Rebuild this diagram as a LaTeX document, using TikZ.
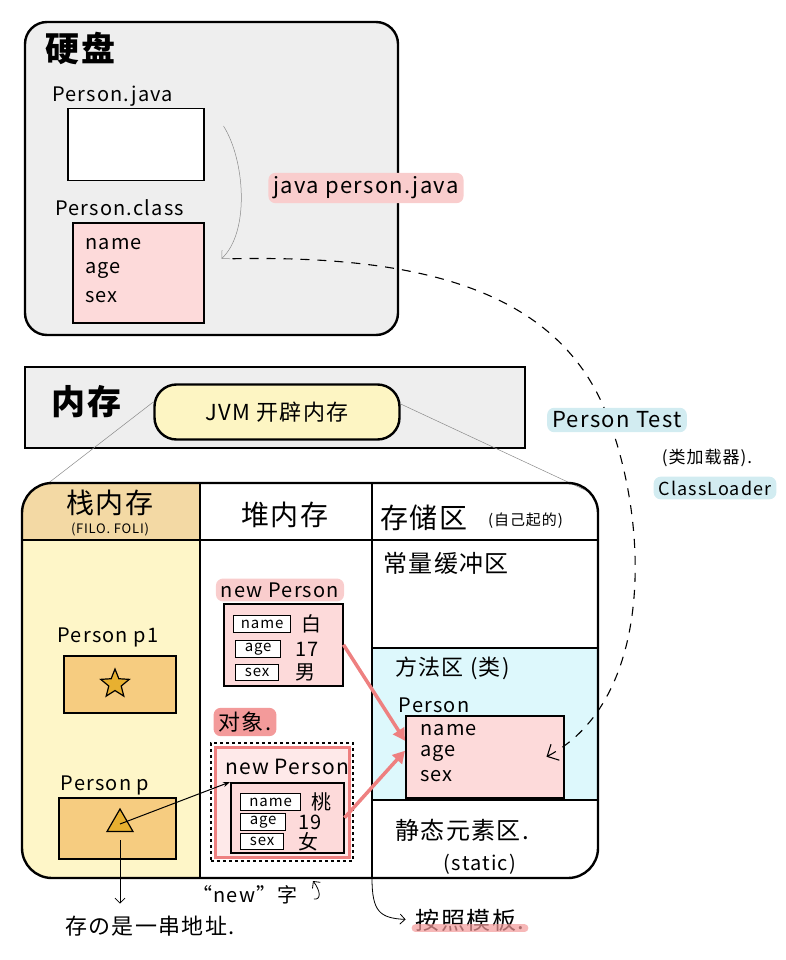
\documentclass[tikz,border=0pt]{standalone}
\usepackage{fontspec}
\setmainfont{Noto Sans CJK SC}[LetterSpace=6]
\usetikzlibrary{arrows.meta,positioning,shapes.geometric}

\definecolor{diskgray}{HTML}{EEEEEE}
\definecolor{filepink}{HTML}{FDDADA}
\definecolor{jvmyellow}{HTML}{FDF5C3}
\definecolor{stacktan}{HTML}{F3D9A4}
\definecolor{stackyellow}{HTML}{FEF6C8}
\definecolor{refbox}{HTML}{F6CC80}
\definecolor{markgold}{HTML}{E8B030}
\definecolor{methodcyan}{HTML}{DDF8FC}
\definecolor{hlpink}{HTML}{F9CDCD}
\definecolor{hlred}{HTML}{F39A9A}
\definecolor{hlcyan}{HTML}{D2ECF1}
\definecolor{objred}{HTML}{EE8080}
\definecolor{linegray}{HTML}{8A8A8A}

\tikzset{
  panel/.style={draw, line width=2.4pt},
  filebox/.style={draw, line width=1.5pt, anchor=north west, inner sep=0pt},
  field/.style={draw, line width=1.3pt, fill=white, anchor=north west, inner sep=1pt, font=\fontsize{15}{15}\selectfont},
  hand/.style={inner sep=0pt, font=\fontsize{20}{20}\selectfont},
  bighand/.style={inner sep=0pt, font=\fontsize{24}{24}\selectfont},
  title/.style={inner sep=0pt, font=\fontsize{34}{34}\selectfont\bfseries},
  colhead/.style={inner sep=0pt, font=\fontsize{28}{28}\selectfont},
  small/.style={inner sep=0pt, font=\fontsize{13}{13}\selectfont},
  marker/.style={fill=#1, rounded corners=7pt, inner xsep=5pt, inner ysep=4pt},
  thinline/.style={linegray, line width=0.5pt},
  note/.style={line width=0.8pt, -{Straight Barb[length=5pt]}},
  refarrow/.style={objred, line width=3.5pt, -{Triangle[length=12pt,width=13pt]}},
}

\begin{document}
\begin{tikzpicture}[x=1pt, y=-1pt]
  \useasboundingbox (0,0) rectangle (786,960);

  % hard disk
  \draw [panel, fill=diskgray, rounded corners=22pt] (25,22) rectangle (398,335);
  \node [title, anchor=west] (disk) at (45,48) {硬盘};
  \node [hand, anchor=west] (javaname) at (52,96) {Person.java};
  \node [filebox, fill=white, minimum width=136, minimum height=72] (javabox) at (67,108) {};
  \node [hand, anchor=west] (classname) at (55,208) {Person.class};
  \node [filebox, fill=filepink, minimum width=131, minimum height=100] (classbox) at (72,222) {};
  \node [hand, anchor=west] (cname) at (85,244) {name};
  \node [hand, anchor=west] (cage) at (85,270) {age};
  \node [hand, anchor=west] (csex) at (85,297) {sex};
  \node [hand, marker=hlpink, font=\fontsize{22}{22}\selectfont] (javac) at (366,188) {java person.java};
  \draw [thinline, -{Straight Barb[length=6pt]}] ([xshift=19pt,yshift=-18pt]javabox.north east)
    .. controls (245,160) and (250,232) .. ([xshift=17pt,yshift=14pt]classbox.east);

  % memory
  \draw [panel, fill=diskgray] (25,367) rectangle (525,448);
  \node [title] (mem) at (87,402) {内存};
  \node [draw, line width=2.4pt, fill=jvmyellow, rounded corners=22pt, minimum width=245, minimum height=55, hand, font=\fontsize{22}{22}\selectfont] (jvm) at (277,412) {JVM 开辟内存};

  % lower box
  \coordinate (lowtl) at (42,488);
  \coordinate (lowtr) at (585,490);
  \draw [thinline] ([yshift=10pt]jvm.west) -- (lowtl);
  \draw [thinline] ([yshift=8pt]jvm.east) -- (510,455) -- (lowtr);
  \begin{scope}
    \clip [rounded corners=30pt] (22,483) rectangle (598,878);
    \fill [stacktan] (22,483) rectangle (200,540);
    \fill [stackyellow] (22,540) rectangle (200,878);
    \fill [methodcyan] (372,648) rectangle (598,800);
  \end{scope}
  \draw [panel, rounded corners=30pt] (22,483) rectangle (598,878);
  \draw [line width=1.8pt] (200,483) -- (200,878);
  \draw [line width=1.8pt] (372,483) -- (372,878);
  \draw [line width=1.4pt] (22,540) -- (598,540);
  \draw [line width=1.4pt] (372,648) -- (598,648);
  \draw [line width=1.4pt] (372,800) -- (598,800);

  \node [colhead] (stackhead) at (110,503) {栈内存};
  \node [small] (stacknote) at (110,529) {(FILO. FOLI)};
  \node [colhead] (heaphead) at (285,515) {堆内存};
  \node [colhead, anchor=west] (storehead) at (380,518) {存储区};
  \node [small, font=\fontsize{15}{15}\selectfont, anchor=west] (storenote) at (488,521) {(自己起的)};
  \node [bighand, anchor=west] (constpool) at (383,563) {常量缓冲区};
  \node [hand, anchor=west, font=\fontsize{22}{22}\selectfont] (methodhead) at (395,668) {方法区 (类)};
  \node [bighand, anchor=west] (statichead) at (395,830) {静态元素区.};
  \node [hand] (staticnote) at (480,864) {(static)};

  % stack
  \node [hand] (p1name) at (108,637) {Person p1};
  \node [filebox, fill=refbox, minimum width=112, minimum height=57] (p1box) at (63,655) {};
  \node [star, star points=5, star point ratio=2.3, draw, line width=1.2pt, fill=markgold, minimum size=30pt, inner sep=0pt] (p1star) at (115,684) {};
  \node [hand] (pname) at (105,785) {Person p};
  \node [filebox, fill=refbox, minimum width=117, minimum height=61] (pbox) at (58,797) {};
  \node [regular polygon, regular polygon sides=3, draw, line width=1.2pt, fill=markgold, minimum size=30pt, inner sep=0pt] (ptri) at (120,824) {};

  % heap
  \node [hand, marker=hlpink] (new1) at (280,590) {new Person};
  \node [filebox, fill=filepink, minimum width=119, minimum height=82] (obj1) at (223,603) {};
  \node [field, minimum width=57, minimum height=17] (obj1name) at (233,615) {name};
  \node [hand, right=10pt of obj1name] (obj1nameval) {白};
  \node [field, minimum width=45, minimum height=17] (obj1age) at (235,640) {age};
  \node [hand, right=14pt of obj1age] (obj1ageval) {17};
  \node [field, minimum width=43, minimum height=16] (obj1sex) at (235,664) {sex};
  \node [hand, right=16pt of obj1sex] (obj1sexval) {男};

  \node [hand, marker=hlred, font=\fontsize{22}{22}\selectfont] (objlabel) at (245,722) {对象.};
  \node [draw, dashed, line width=1.6pt, minimum width=142, minimum height=118, anchor=north west] (obj2) at (210,742) {};
  \node [draw=objred, line width=2.8pt, fill=filepink!60, minimum width=134, minimum height=110, anchor=north west] (obj2red) at (214,746) {};
  \node [hand, font=\fontsize{21}{21}\selectfont] (new2) at (287,767) {new Person};
  \node [filebox, fill=filepink, minimum width=113, minimum height=70] (obj2in) at (230,782) {};
  \node [field, minimum width=60, minimum height=17] (obj2name) at (240,793) {name};
  \node [hand, right=10pt of obj2name] (obj2nameval) {桃};
  \node [field, minimum width=45, minimum height=17] (obj2age) at (240,813) {age};
  \node [hand, right=12pt of obj2age] (obj2ageval) {19};
  \node [field, minimum width=43, minimum height=16] (obj2sex) at (240,833) {sex};
  \node [hand, right=14pt of obj2sex] (obj2sexval) {女};

  % method area
  \node [hand] (pclass) at (434,705) {Person};
  \node [filebox, fill=filepink, minimum width=158, minimum height=82] (methodbox) at (405,715) {};
  \node [hand, anchor=west] (mname) at (420,730) {name};
  \node [hand, anchor=west] (mage) at (420,753) {age};
  \node [hand, anchor=west] (msex) at (420,776) {sex};

  % references
  \draw [refarrow] (obj1.east) -- ([yshift=16pt]methodbox.west);
  \draw [refarrow] (obj2in.east) -- ([yshift=6pt]methodbox.west);
  \draw [line width=1pt, -{Stealth[length=7pt]}] (ptri.center) -- (obj2in.north west);

  % class loading
  \draw [dashed, line width=1.1pt, dash pattern=on 9pt off 8pt, -{Straight Barb[length=9pt]}] ([xshift=28pt,yshift=14pt]classbox.east)
    .. controls (420,255) and (555,290) .. (605,410)
    .. controls (650,520) and (655,700) .. ([xshift=-18pt]methodbox.east);
  \node [hand, marker=hlcyan, font=\fontsize{22}{22}\selectfont] (ptest) at (617,420) {Person Test};
  \node [small, font=\fontsize{17}{17}\selectfont] (loadercn) at (707,458) {(类加载器).};
  \node [hand, marker=hlcyan, font=\fontsize{18}{18}\selectfont] (loader) at (715,488) {ClassLoader};

  % notes below
  \node [hand, font=\fontsize{22}{22}\selectfont] (addr) at (150,926) {存の是一串地址.};
  \draw [note, shorten <=8pt, shorten >=12pt] (ptri.south) -- (ptri.south |- addr.north);
  \node [hand] (newword) at (245,895) {“new”字};
  \coordinate (heapfoot) at (313,881);
  \draw [note] ([xshift=16pt,yshift=-4pt]newword.east) .. controls (322,900) and (320,890) .. (heapfoot);
  \node [bighand] (template) at (470,920) {按照模板.};
  \draw [hlred, line width=8pt, opacity=0.7, line cap=round] ([yshift=3pt]template.south west) -- ([yshift=3pt]template.south east);
  \coordinate (divfoot) at (372,878);
  \draw [note, shorten >=10pt] (divfoot) .. controls (372,912) and (380,918) .. (template.west);
\end{tikzpicture}
\end{document}
